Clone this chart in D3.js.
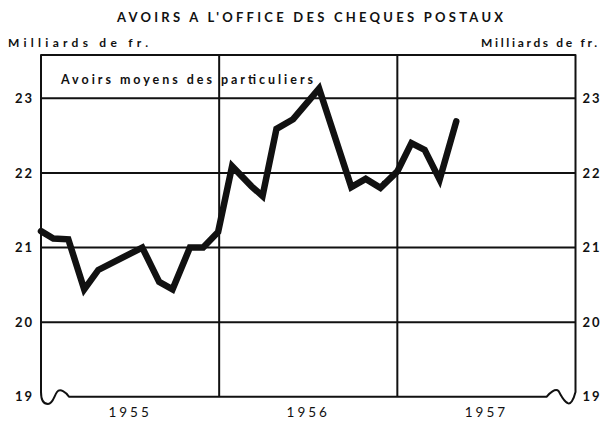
<!DOCTYPE html>
<html>
<head>
<meta charset="utf-8">
<script src="https://cdn.jsdelivr.net/npm/d3@7"></script>
<style>
  html, body { margin: 0; padding: 0; background: #fff; }
  svg { display: block; }
  text { font-family: Lato, "DejaVu Sans", sans-serif; fill: #111; }
</style>
</head>
<body>
<svg id="chart" width="615" height="421"></svg>
<script>
// ---- data ----
const years = ["1955", "1956", "1957"];
const yTicks = [19, 20, 21, 22, 23];
// month position counted from January 1955 (0 = start of Jan 1955)
const months = [0, 0.83, 1.84, 2.91, 3.86, 6.82, 7.96, 8.86, 10.03, 10.92, 11.93, 12.87,
                14.18, 14.92, 15.86, 16.98, 18.73, 20.9, 21.87, 22.86, 24.0, 24.95, 25.84, 26.85, 27.97];
// average holdings of individuals, milliards de francs
const values = [21.22, 21.12, 21.11, 20.44, 20.70, 21.00, 20.54, 20.44, 21.00, 21.00, 21.21, 22.09,
                21.82, 21.69, 22.59, 22.72, 23.13, 21.81, 21.92, 21.80, 22.02, 22.40, 22.31, 21.91, 22.69];
const title = "AVOIRS A L'OFFICE DES CHEQUES POSTAUX";
const unitLabel = "Milliards de fr.";
const seriesLabel = "Avoirs moyens des particuliers";

(function () {
// ---- layout ----
const svg = d3.select("#chart");
const pL = 41, pR = 575.5, pB = 396.8, pT = 55;
const x = d3.scaleLinear().domain([0, 36]).range([pL, pR]);
const y = d3.scaleLinear().domain([19, 23]).range([pB, 98.3]);
const ink = "#111";

// title & unit labels
svg.append("text").attr("x", 310).attr("y", 22).attr("text-anchor", "middle")
  .attr("font-size", 13).attr("font-weight", 700).attr("textLength", 386).attr("lengthAdjust", "spacing")
  .text(title);
svg.append("text").attr("x", 8).attr("y", 47).attr("font-size", 12).attr("font-weight", 700)
  .attr("textLength", 140).attr("lengthAdjust", "spacing").text(unitLabel);
svg.append("text").attr("x", 481).attr("y", 47).attr("font-size", 12).attr("font-weight", 700)
  .attr("textLength", 116).attr("lengthAdjust", "spacing").text(unitLabel);

// horizontal grid lines (20..23)
svg.append("g").selectAll("line").data(yTicks.filter(d => d > 19)).join("line")
  .attr("x1", pL).attr("x2", pR)
  .attr("y1", d => y(d)).attr("y2", d => y(d))
  .attr("stroke", ink).attr("stroke-width", 2);

// vertical year dividers
svg.append("g").selectAll("line").data([12, 24]).join("line")
  .attr("x1", d => x(d)).attr("x2", d => x(d))
  .attr("y1", pT).attr("y2", pB)
  .attr("stroke", ink).attr("stroke-width", 2);

// frame with broken-axis waves at the bottom corners
const r0 = x(36), l0 = x(0);
const frame = d3.path();
frame.moveTo(l0, pT);
frame.lineTo(r0, pT);
frame.lineTo(r0, 392);
frame.bezierCurveTo(r0 - 2, 400, r0 - 5, 405, r0 - 8, 403);
frame.bezierCurveTo(r0 - 12, 401, r0 - 14, 396, r0 - 17, 391);
frame.bezierCurveTo(r0 - 20, 388, r0 - 26, 393, r0 - 29, pB);
frame.lineTo(l0 + 28, pB);
frame.bezierCurveTo(l0 + 25, 392, l0 + 19, 388, l0 + 16, 392);
frame.bezierCurveTo(l0 + 13, 396, l0 + 12, 404, l0 + 7, 404);
frame.bezierCurveTo(l0 + 3, 404, l0, 400, l0, 392);
frame.closePath();
svg.append("path").attr("d", frame.toString()).attr("fill", "none")
  .attr("stroke", ink).attr("stroke-width", 2).attr("stroke-linejoin", "round");

// y axes labels (left and right)
const fmt = d3.format("d");
const gl = svg.append("g").attr("transform", `translate(${pL},0)`)
  .call(d3.axisLeft(y).tickValues(yTicks).tickFormat(fmt).tickSize(0).tickPadding(7));
const gr = svg.append("g").attr("transform", `translate(${pR},0)`)
  .call(d3.axisRight(y).tickValues(yTicks).tickFormat(fmt).tickSize(0).tickPadding(7));
[gl, gr].forEach(g => {
  g.select(".domain").remove();
  g.selectAll("text").attr("font-size", 13).attr("font-family", "Lato, sans-serif")
    .attr("fill", ink).attr("letter-spacing", 2).attr("font-weight", 700);
});

// year labels (centred in each year band)
const xb = d3.scaleBand().domain(years).range([pL, pR]);
const gx = svg.append("g").attr("transform", `translate(0,${pB})`)
  .call(d3.axisBottom(xb).tickSize(0).tickPadding(0));
gx.select(".domain").remove();
gx.selectAll("text").attr("font-size", 13.5).attr("font-family", "Lato, sans-serif")
  .attr("fill", ink).attr("letter-spacing", 3).attr("y", 20).attr("dy", 0);

// series label
svg.append("text").attr("x", 61).attr("y", 84).attr("font-size", 12.5).attr("font-weight", 700)
  .attr("textLength", 252).attr("lengthAdjust", "spacing").text(seriesLabel);

// data line
const line = d3.line().x((d, i) => x(months[i])).y(d => y(d));
svg.append("path").datum(values).attr("d", line)
  .attr("fill", "none").attr("stroke", ink).attr("stroke-width", 6.5)
  .attr("stroke-linejoin", "miter").attr("stroke-miterlimit", 3).attr("stroke-linecap", "round");

// small stray stroke from the printed original
svg.append("line").attr("x1", 382.5).attr("y1", 181).attr("x2", 384.5).attr("y2", 185.5)
  .attr("stroke", ink).attr("stroke-width", 1.3);
})();
</script>
</body>
</html>
